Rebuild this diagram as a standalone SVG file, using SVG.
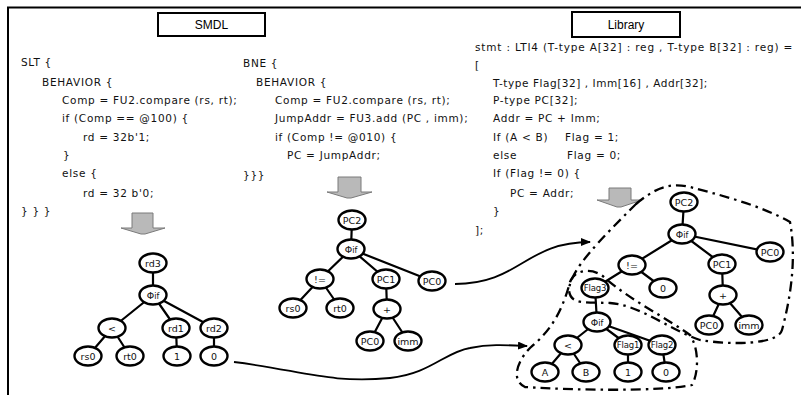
<svg xmlns="http://www.w3.org/2000/svg" width="801" height="395" viewBox="0 0 801 395">
<defs>
<style>
.t{font-family:"DejaVu Sans","Liberation Sans",sans-serif;font-size:10.5px;fill:#111;letter-spacing:0.7px}
.h{font-family:"Liberation Sans",Arial,sans-serif;font-size:12px;fill:#000;text-anchor:middle}
.n ellipse{fill:#fff;stroke:#000;stroke-width:2.4}
.n text{font-family:"DejaVu Sans","Liberation Sans",sans-serif;font-size:9.5px;fill:#111;text-anchor:middle}
.n text.s{font-size:8.5px;letter-spacing:-0.2px}
.e{stroke:#000;stroke-width:2.2;fill:none}
.c{stroke:#000;stroke-width:1.8;fill:none}
.dd{stroke:#000;stroke-width:2.3;fill:none;stroke-dasharray:10,5,2.5,5}
.ga{fill:#b9b9b9;stroke:#7a7a7a;stroke-width:1}
</style>
<marker id="ah" markerWidth="10" markerHeight="8" refX="9" refY="4" orient="auto" markerUnits="userSpaceOnUse">
<path d="M0,0 L10,4 L0,8 Z" fill="#000"/>
</marker>
</defs>
<rect width="801" height="395" fill="#fff"/>
<path d="M8,395 V7.5 H801" stroke="#000" stroke-width="2" fill="none"/>

<g id="title-smdl"><rect x="158" y="13" width="107" height="23" fill="#fff" stroke="#000" stroke-width="2"/><text class="h" x="211.5" y="29">SMDL</text></g>
<g id="title-library"><rect x="572" y="12" width="108" height="25" fill="#fff" stroke="#000" stroke-width="2"/><text class="h" x="626" y="29">Library</text></g>

<g id="code-slt">
<text class="t" x="21" y="66">SLT {</text>
<text class="t" x="42" y="86">BEHAVIOR  {</text>
<text class="t" x="62" y="104">Comp = FU2.compare (rs, rt);</text>
<text class="t" x="62" y="122">if (Comp == @100)  {</text>
<text class="t" x="83" y="141">rd = 32b'1;</text>
<text class="t" x="63" y="159">}</text>
<text class="t" x="62" y="177">else {</text>
<text class="t" x="83" y="197">rd = 32 b'0;</text>
<text class="t" x="21" y="215">} } }</text>
</g>
<g id="code-bne">
<text class="t" x="243" y="67">BNE {</text>
<text class="t" x="256" y="86">BEHAVIOR  {</text>
<text class="t" x="275" y="104">Comp = FU2.compare (rs, rt);</text>
<text class="t" x="275" y="122">JumpAddr = FU3.add (PC , imm);</text>
<text class="t" x="275" y="141">if (Comp != @010)  {</text>
<text class="t" x="287" y="159">PC = JumpAddr;</text>
<text class="t" x="243" y="179">}}}</text>
</g>
<g id="code-library">
<text class="t" x="475" y="51" textLength="318" lengthAdjust="spacing">stmt : LTI4 (T-type A[32]  : reg , T-type B[32]  : reg) =</text>
<text class="t" x="475" y="69">[</text>
<text class="t" x="493" y="87" textLength="215" lengthAdjust="spacing">T-type Flag[32]  , Imm[16]  , Addr[32];</text>
<text class="t" x="493" y="104">P-type PC[32];</text>
<text class="t" x="493" y="122">Addr = PC + Imm;</text>
<text class="t" x="493" y="141">If (A &lt; B)<tspan x="565">Flag = 1;</tspan></text>
<text class="t" x="493" y="159">else<tspan x="567">Flag = 0;</tspan></text>
<text class="t" x="493" y="177">If (Flag != 0) {</text>
<text class="t" x="510" y="197">PC = Addr;</text>
<text class="t" x="493" y="215">}</text>
<text class="t" x="475" y="234">];</text>
</g>

<g id="arrow-smdl"><path class="ga" d="M132,213 H153 V228 H165 L145,234 H141 L121,228 H132 Z"/></g>
<g id="arrow-bne"><path class="ga" d="M338,177 H361 V192 H372 L351,198 H347 L327,192 H338 Z"/></g>
<g id="arrow-library"><path class="ga" d="M609,188 H631 V200 H642 L621,207 H617 L597,200 H609 Z"/></g>

<g id="regions">
<path class="dd" d="M636,204 C 655,188 670,182 690,187 C 720,195 760,205 790,222 C 797,260 790,300 782,330 C 778,345 730,345 700,340 C 670,330 640,305 610,303 C 585,302 570,305 569,290 C 570,270 600,240 636,204 Z"/>
<path class="dd" d="M570,282 C 575,268 595,268 605,278 C 630,300 670,320 690,335 C 700,350 698,375 692,385 C 660,392 570,390 525,387 C 510,380 518,360 530,348 C 545,335 560,320 570,282 Z"/>
</g>

<g id="connectors">
<path class="e" d="M153,263 L153,295 M153,295 L112,328 M153,295 L176,328 M153,295 L214,328 M112,328 L88,356 M112,328 L130,356 M176,328 L177,356 M214,328 L214,356"/>
<path class="e" d="M352,220 L351,249 M351,249 L320,279 M351,249 L386,279 M351,249 L432,281 M320,279 L293,308 M320,279 L340,308 M386,279 L387,309 M387,309 L370,341 M387,309 L408,341"/>
<path class="e" d="M684,202 L682,234 M682,234 L632,265 M682,234 L722,264 M682,234 L770,252 M632,265 L595,288 M632,265 L663,288 M722,264 L723,295 M723,295 L709,325 M723,295 L749,325 M595,288 L597,322 M597,322 L568,345 M597,322 L628,345 M597,322 L662,345 M568,345 L545,372 M568,345 L586,372 M628,345 L628,372 M662,345 L666,372"/>
<path class="c" marker-end="url(#ah)" d="M455,284 C 520,284 525,242 590,242"/>
<path class="c" marker-end="url(#ah)" d="M234,362 C 300,370 330,384 390,378 C 430,374 445,352 470,348 C 490,344 505,345 527,346"/>
</g>

<g id="smdl-rd3" class="n"><ellipse cx="153" cy="263" rx="13.5" ry="9.5"/><text x="153" y="266.5">rd3</text></g>
<g id="smdl-phi" class="n"><ellipse cx="153" cy="295" rx="13.5" ry="9.5"/><text x="153" y="298.5">Φ<tspan font-size="8">if</tspan></text></g>
<g id="smdl-lt" class="n"><ellipse cx="112" cy="328" rx="13.5" ry="9.5"/><text x="112" y="331.5">&lt;</text></g>
<g id="smdl-rd1" class="n"><ellipse cx="176" cy="328" rx="13.5" ry="9.5"/><text x="176" y="331.5">rd1</text></g>
<g id="smdl-rd2" class="n"><ellipse cx="214" cy="328" rx="13.5" ry="9.5"/><text x="214" y="331.5">rd2</text></g>
<g id="smdl-rs0" class="n"><ellipse cx="88" cy="356" rx="13.5" ry="9.5"/><text x="88" y="359.5">rs0</text></g>
<g id="smdl-rt0" class="n"><ellipse cx="130" cy="356" rx="13.5" ry="9.5"/><text x="130" y="359.5">rt0</text></g>
<g id="smdl-1" class="n"><ellipse cx="177" cy="356" rx="13.5" ry="9.5"/><text x="177" y="359.5">1</text></g>
<g id="smdl-0" class="n"><ellipse cx="214" cy="356" rx="13.5" ry="9.5"/><text x="214" y="359.5">0</text></g>

<g id="bne-pc2" class="n"><ellipse cx="352" cy="220" rx="13.5" ry="9.5"/><text x="352" y="223.5">PC2</text></g>
<g id="bne-phi" class="n"><ellipse cx="351" cy="249" rx="13.5" ry="9.5"/><text x="351" y="252.5">Φ<tspan font-size="8">if</tspan></text></g>
<g id="bne-ne" class="n"><ellipse cx="320" cy="279" rx="13.5" ry="9.5"/><text x="320" y="282.5">!=</text></g>
<g id="bne-pc1" class="n"><ellipse cx="386" cy="279" rx="13.5" ry="9.5"/><text x="386" y="282.5">PC1</text></g>
<g id="bne-pc0a" class="n"><ellipse cx="432" cy="281" rx="13.5" ry="9.5"/><text x="432" y="284.5">PC0</text></g>
<g id="bne-rs0" class="n"><ellipse cx="293" cy="308" rx="13.5" ry="9.5"/><text x="293" y="311.5">rs0</text></g>
<g id="bne-rt0" class="n"><ellipse cx="340" cy="308" rx="13.5" ry="9.5"/><text x="340" y="311.5">rt0</text></g>
<g id="bne-plus" class="n"><ellipse cx="387" cy="309" rx="13.5" ry="9.5"/><text x="387" y="312.5">+</text></g>
<g id="bne-pc0b" class="n"><ellipse cx="370" cy="341" rx="13.5" ry="9.5"/><text x="370" y="344.5">PC0</text></g>
<g id="bne-imm" class="n"><ellipse cx="408" cy="341" rx="13.5" ry="9.5"/><text x="408" y="344.5">imm</text></g>

<g id="lib-pc2" class="n"><ellipse cx="684" cy="202" rx="13.5" ry="9.5"/><text x="684" y="205.5">PC2</text></g>
<g id="lib-phi" class="n"><ellipse cx="682" cy="234" rx="13.5" ry="9.5"/><text x="682" y="237.5">Φ<tspan font-size="8">if</tspan></text></g>
<g id="lib-ne" class="n"><ellipse cx="632" cy="265" rx="13.5" ry="9.5"/><text x="632" y="268.5">!=</text></g>
<g id="lib-pc1" class="n"><ellipse cx="722" cy="264" rx="13.5" ry="9.5"/><text x="722" y="267.5">PC1</text></g>
<g id="lib-pc0a" class="n"><ellipse cx="770" cy="252" rx="13.5" ry="9.5"/><text x="770" y="255.5">PC0</text></g>
<g id="lib-flag3" class="n"><ellipse cx="595" cy="288" rx="13.5" ry="9.5"/><text class="s" x="595" y="291">Flag3</text></g>
<g id="lib-zero-a" class="n"><ellipse cx="663" cy="288" rx="13.5" ry="9.5"/><text x="663" y="291.5">0</text></g>
<g id="lib-plus" class="n"><ellipse cx="723" cy="295" rx="13.5" ry="9.5"/><text x="723" y="298.5">+</text></g>
<g id="lib-pc0b" class="n"><ellipse cx="709" cy="325" rx="13.5" ry="9.5"/><text x="709" y="328.5">PC0</text></g>
<g id="lib-imm" class="n"><ellipse cx="749" cy="325" rx="13.5" ry="9.5"/><text x="749" y="328.5">imm</text></g>
<g id="lib-phi2" class="n"><ellipse cx="597" cy="322" rx="13.5" ry="9.5"/><text x="597" y="325.5">Φ<tspan font-size="8">if</tspan></text></g>
<g id="lib-lt" class="n"><ellipse cx="568" cy="345" rx="13.5" ry="9.5"/><text x="568" y="348.5">&lt;</text></g>
<g id="lib-flag1" class="n"><ellipse cx="628" cy="345" rx="13.5" ry="9.5"/><text class="s" x="628" y="348">Flag1</text></g>
<g id="lib-flag2" class="n"><ellipse cx="662" cy="345" rx="13.5" ry="9.5"/><text class="s" x="662" y="348">Flag2</text></g>
<g id="lib-a" class="n"><ellipse cx="545" cy="372" rx="13.5" ry="9.5"/><text x="545" y="375.5">A</text></g>
<g id="lib-b" class="n"><ellipse cx="586" cy="372" rx="13.5" ry="9.5"/><text x="586" y="375.5">B</text></g>
<g id="lib-1" class="n"><ellipse cx="628" cy="372" rx="13.5" ry="9.5"/><text x="628" y="375.5">1</text></g>
<g id="lib-zero-b" class="n"><ellipse cx="666" cy="372" rx="13.5" ry="9.5"/><text x="666" y="375.5">0</text></g>
</svg>
